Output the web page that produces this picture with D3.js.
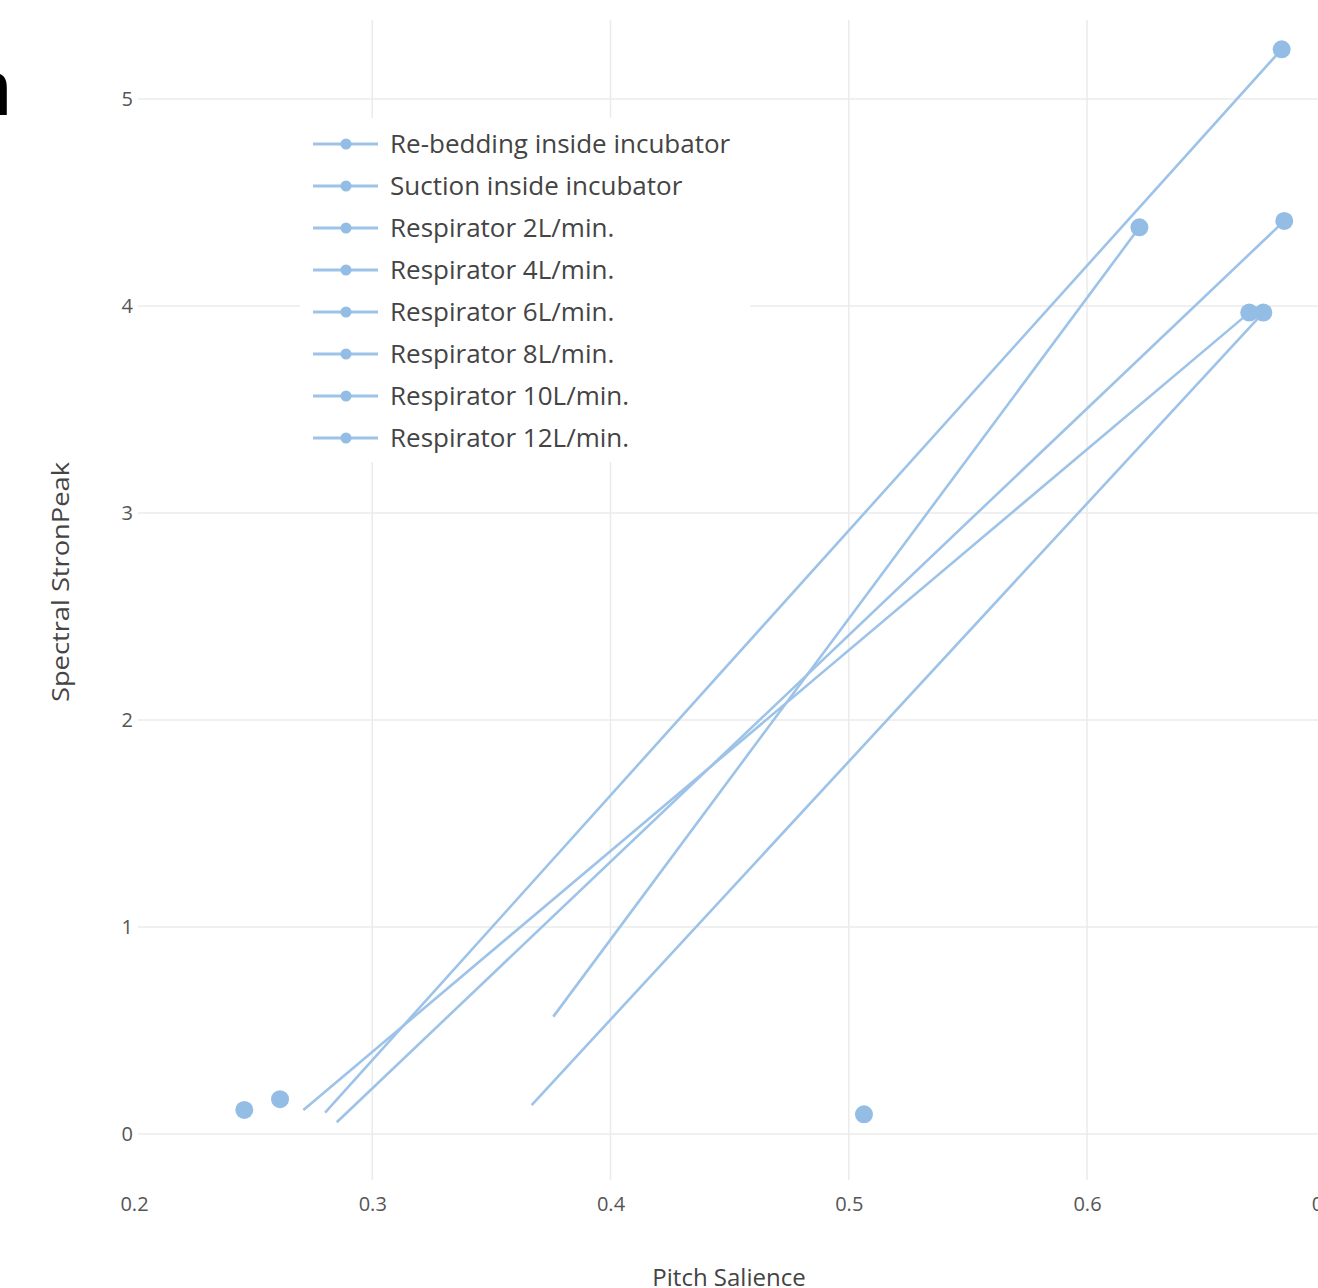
<!DOCTYPE html>
<html>
<head>
<meta charset="utf-8">
<script src="https://cdn.jsdelivr.net/npm/d3@7"></script>
<style>
  html, body { margin: 0; padding: 0; background: #fff; overflow: hidden; }
  svg { display: block; font-family: "Open Sans", "Noto Sans", sans-serif; }
</style>
</head>
<body>
<svg id="chart" width="1318" height="1288"></svg>
<script>
var seriesNames = ['Re-bedding inside incubator', 'Suction inside incubator', 'Respirator 2L/min.',
  'Respirator 4L/min.', 'Respirator 6L/min.', 'Respirator 8L/min.', 'Respirator 10L/min.', 'Respirator 12L/min.'];

// marker positions (pitch salience, spectral strongpeak)
var markerX = [0.6817, 0.622, 0.6828, 0.6681, 0.674, 0.2463, 0.2613, 0.5064];
var markerY = [5.24, 4.38, 4.411, 3.968, 3.968, 0.116, 0.168, 0.095];

// where each line starts; it ends at its marker
var lineStartX = [0.2802, 0.376, 0.2851, 0.2711, 0.3669, null, null, null];
var lineStartY = [0.103, 0.567, 0.057, 0.116, 0.140, null, null, null];

var xTicks = [0.2, 0.3, 0.4, 0.5, 0.6, 0.7];
var yTicks = [0, 1, 2, 3, 4, 5];

var lineColor = '#9dc3e8';
var markerColor = '#94bde6';

var svg = d3.select('#chart');

var x = d3.scaleLinear().domain([0.2, 0.7]).range([134, 1325.25]);
var y = d3.scaleLinear().domain([0, 5]).range([1134, 99]);

var plot = { left: 138, right: 1318, top: 20, bottom: 1180 };

svg.append('defs').append('clipPath').attr('id', 'plotclip')
  .append('rect').attr('x', plot.left).attr('y', plot.top)
  .attr('width', plot.right - plot.left).attr('height', plot.bottom - plot.top);

// cut off title fragment
svg.append('text').attr('x', 12).attr('y', 115).attr('text-anchor', 'end')
  .style('font-family', '"Liberation Sans", Arial, sans-serif').style('font-size', '78px').attr('fill', '#000')
  .text('n');

var grid = svg.append('g').attr('class', 'grid');
grid.selectAll('line.v').data(xTicks.filter(function(d) { return d > 0.2 && d < 0.7; }))
  .enter().append('line').attr('class', 'v')
  .attr('x1', function(d) { return x(d); }).attr('x2', function(d) { return x(d); })
  .attr('y1', plot.top).attr('y2', plot.bottom)
  .attr('stroke', '#ebebeb').attr('stroke-width', 1.5);
grid.selectAll('line.h').data(yTicks)
  .enter().append('line').attr('class', 'h')
  .attr('x1', plot.left).attr('x2', plot.right)
  .attr('y1', function(d) { return y(d); }).attr('y2', function(d) { return y(d); })
  .attr('stroke', '#ebebeb').attr('stroke-width', 1.5);

var xAxis = d3.axisBottom(x).tickValues(xTicks).tickSize(0).tickPadding(0).tickFormat(d3.format('.1f'));
var gx = svg.append('g').attr('transform', 'translate(0,1204)').call(xAxis);
gx.select('.domain').remove();
gx.selectAll('text').attr('fill', '#555').style('font-size', '20px').attr('dy', '0.35em')
  .style('font-family', '"Open Sans", sans-serif');

var yAxis = d3.axisLeft(y).tickValues(yTicks).tickSize(0).tickPadding(0).tickFormat(d3.format('d'));
var gy = svg.append('g').attr('transform', 'translate(133,0)').call(yAxis);
gy.select('.domain').remove();
gy.selectAll('text').attr('fill', '#555').style('font-size', '20px')
  .style('font-family', '"Open Sans", sans-serif');

svg.append('text').attr('x', 729).attr('y', 1286).attr('text-anchor', 'middle')
  .attr('fill', '#444').style('font-size', '24px').text('Pitch Salience');

svg.append('text').attr('transform', 'translate(69,582) rotate(-90)').attr('text-anchor', 'middle')
  .attr('fill', '#444').style('font-size', '23px')
  .attr('textLength', 240).attr('lengthAdjust', 'spacingAndGlyphs')
  .text('Spectral StronPeak');

// legend (white box hides the grid behind it)
var legend = svg.append('g').attr('class', 'legend');
legend.append('rect').attr('x', 300).attr('y', 118).attr('width', 450).attr('height', 344).attr('fill', '#fff');
var rows = legend.selectAll('g.row').data(seriesNames).enter().append('g').attr('class', 'row')
  .attr('transform', function(d, i) { return 'translate(0,' + (144 + i * 42) + ')'; });
rows.append('line').attr('x1', 313).attr('x2', 378).attr('y1', 0).attr('y2', 0)
  .attr('stroke', lineColor).attr('stroke-width', 3);
rows.append('circle').attr('cx', 346).attr('cy', 0).attr('r', 5.5).attr('fill', markerColor);
rows.append('text').attr('x', 390).attr('y', 0).attr('dy', '0.35em')
  .attr('fill', '#444').style('font-size', '26px').text(function(d) { return d; });

var marks = svg.append('g').attr('clip-path', 'url(#plotclip)');

var idx = d3.range(seriesNames.length);
var lineGen = d3.line().x(function(d) { return x(d[0]); }).y(function(d) { return y(d[1]); });

marks.selectAll('path.trace').data(idx.filter(function(i) { return lineStartX[i] !== null; }))
  .enter().append('path').attr('class', 'trace')
  .attr('d', function(i) { return lineGen([[lineStartX[i], lineStartY[i]], [markerX[i], markerY[i]]]); })
  .attr('fill', 'none').attr('stroke', lineColor).attr('stroke-width', 2.6);

marks.selectAll('circle.pt').data(idx).enter().append('circle').attr('class', 'pt')
  .attr('cx', function(i) { return x(markerX[i]); })
  .attr('cy', function(i) { return y(markerY[i]); })
  .attr('r', 9).attr('fill', markerColor);
</script>
</body>
</html>
